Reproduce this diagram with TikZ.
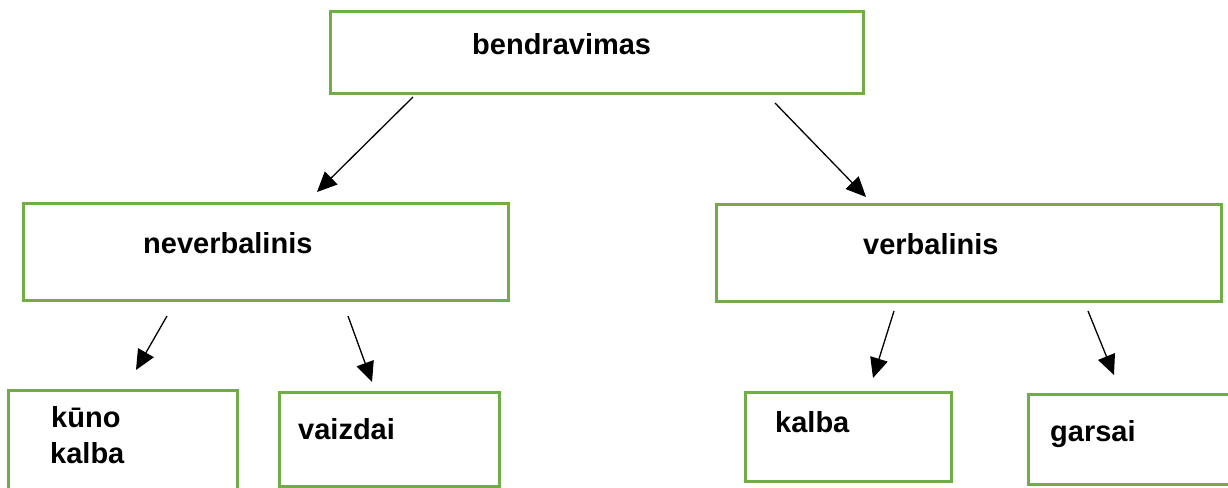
\documentclass[tikz,border=0pt]{standalone}
\usepackage{fontspec}
\setmainfont{Liberation Sans}
\usetikzlibrary{arrows.meta}
\definecolor{boxgreen}{HTML}{70AD47}
\begin{document}
\begin{tikzpicture}[x=1pt,y=-1pt,
  box/.style={draw=boxgreen,line width=3pt,fill=white,inner sep=0pt,rectangle},
  label/.style={anchor=base west,inner sep=0pt,font=\fontsize{29}{35}\selectfont\bfseries},
  link/.style={line width=1.3pt,-{Triangle[length=20pt,width=18pt]}}]
\useasboundingbox (0,0) rectangle (1228,487);
\clip (0,0) rectangle (1228,487);
\fill[white] (0,0) rectangle (1228,487);

% boxes: centre, width, height
\node[box,minimum width=533pt,minimum height=81pt] (top)  at (596.5,52.5) {};
\node[box,minimum width=485pt,minimum height=97pt] (nev)  at (265.5,251.5) {};
\node[box,minimum width=505pt,minimum height=97pt] (verb) at (968.5,252.5) {};
\node[box,minimum width=229pt,minimum height=110pt] (kuno) at (122.5,445) {};
\node[box,minimum width=220pt,minimum height=94pt] (vaiz) at (389,439) {};
\node[box,minimum width=206pt,minimum height=89pt] (kalb) at (848,436.5) {};
\node[box,minimum width=230pt,minimum height=90pt] (gars) at (1143,439) {};

% texts
\node[label] (ttop)  at (472,55)  {bendravimas};
\node[label] (tnev)  at (143,253) {neverbalinis};
\node[label] (tverb) at (863,254) {verbalinis};
\node[label] (tkuno1) at (51,427) {kūno};
\node[label] (tkuno2) at (50,463) {kalba};
\node[label] (tvaiz) at (298,439) {vaizdai};
\node[label] (tkalb) at (775,432) {kalba};
\node[label] (tgars) at (1050,441) {garsai};

% arrow end points
\coordinate (a1) at (413,97);   \coordinate (b1) at (317,192);
\coordinate (a2) at (775,103);  \coordinate (b2) at (866,197);
\coordinate (a3) at (167,316);  \coordinate (b3) at (136,370);
\coordinate (a4) at (348,316);  \coordinate (b4) at (372,382);
\coordinate (a5) at (894,311);  \coordinate (b5) at (873,378);
\coordinate (a6) at (1088,311); \coordinate (b6) at (1114,375);

\draw[link] (a1) -- (b1);
\draw[link] (a2) -- (b2);
\draw[link] (a3) -- (b3);
\draw[link] (a4) -- (b4);
\draw[link] (a5) -- (b5);
\draw[link] (a6) -- (b6);
\end{tikzpicture}
\end{document}
